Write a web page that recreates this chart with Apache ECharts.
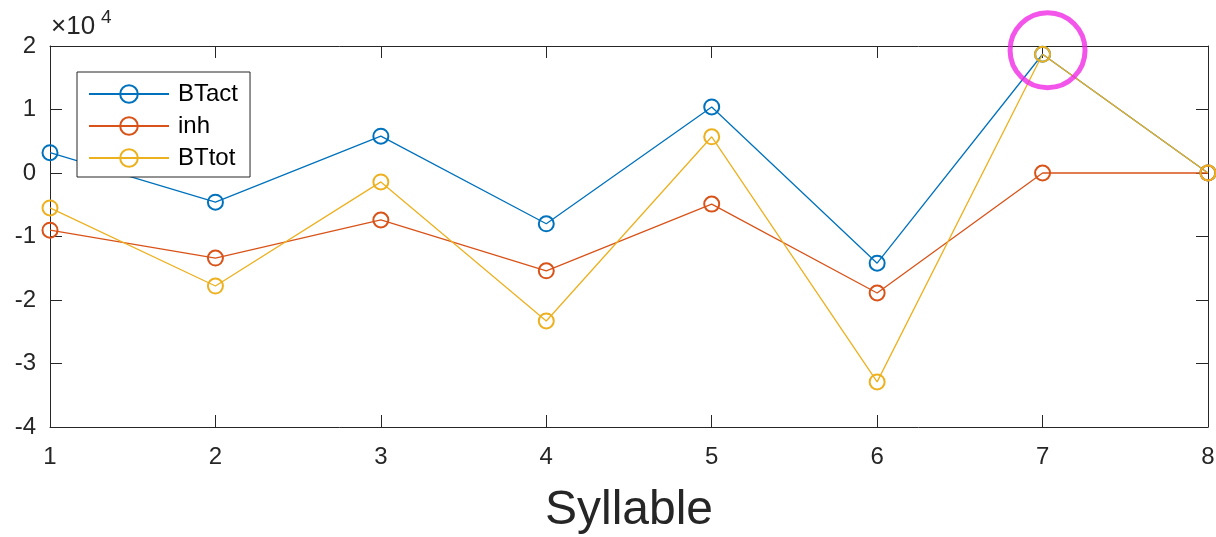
<!DOCTYPE html>
<html><head><meta charset="utf-8">
<script src="https://cdn.jsdelivr.net/npm/echarts@6/dist/echarts.min.js"></script>
<style>html,body{margin:0;padding:0;background:#fff}#c{width:1216px;height:537px}</style>
</head><body><div id="c"></div>
<script>
const syllables = [1, 2, 3, 4, 5, 6, 7, 8];
const btact = [3200, -4600, 5800, -8000, 10400, -14200, 18700, 0];
const inh = [-9000, -13400, -7400, -15400, -4900, -18900, 0, 0];
const bttot = [-5500, -17800, -1400, -23300, 5700, -32900, 18700, 0];
const highlight = [[7, 18700]];
const yTicks = [-40000, -30000, -20000, -10000, 0, 10000, 20000];

const F = '"Liberation Sans", Arial, Helvetica, sans-serif';
const pair = (xs, ys) => xs.map((x, i) => [x, ys[i]]);
const chart = echarts.init(document.getElementById('c'));
const axisCommon = {
  axisLine: {show: true, onZero: false, lineStyle: {color: '#262626', width: 1}},
  axisTick: {show: true, inside: true, length: 12, lineStyle: {color: '#262626', width: 1}},
  splitLine: {show: false}
};
const mk = (name, data, color) => ({
  name, type: 'line', data: pair(syllables, data),
  symbol: 'circle', symbolSize: 15, showSymbol: true,
  lineStyle: {color, width: 1.3},
  itemStyle: {color: 'rgba(255,255,255,0)', borderColor: color, borderWidth: 2},
  emphasis: {disabled: true}, animation: false, z: 3
});
chart.setOption({
  animation: false,
  grid: {left: 50, right: 8, top: 46, bottom: 110, containLabel: false, outerBoundsMode: 'none'},
  legend: {
    left: 77, top: 72, orient: 'vertical', itemWidth: 80, itemHeight: 22, itemGap: 8,
    padding: [10, 12, 7, 11], borderColor: '#262626', borderWidth: 1, backgroundColor: '#fff',
    textStyle: {fontFamily: F, fontSize: 24, color: '#000', padding: [0, 0, 0, 4]},
    data: ['BTact', 'inh', 'BTtot']
  },
  xAxis: [
    Object.assign({type: 'value', min: 1, max: 8, interval: 1, name: 'Syllable', nameLocation: 'middle', nameGap: 60,
      nameTextStyle: {fontFamily: F, fontSize: 48, color: '#262626'},
      axisLabel: {fontFamily: F, fontSize: 24, color: '#262626', margin: 18}}, axisCommon),
    Object.assign({type: 'value', min: 1, max: 8, interval: 1, position: 'top', axisLabel: {show: false}}, axisCommon)
  ],
  yAxis: [
    Object.assign({type: 'value', min: yTicks[0], max: yTicks[yTicks.length - 1], interval: 10000,
      axisLabel: {fontFamily: F, fontSize: 24, color: '#262626', margin: 14, formatter: v => String(v / 10000)}}, axisCommon),
    Object.assign({type: 'value', min: yTicks[0], max: yTicks[yTicks.length - 1], interval: 10000, position: 'right', axisLabel: {show: false}}, axisCommon)
  ],
  graphic: [{type: 'text', left: 51, top: 14, style: {text: '×10', font: '26px ' + F, fill: '#262626'}},
            {type: 'text', left: 101, top: 8, style: {text: '4', font: '19px ' + F, fill: '#262626'}}],
  series: [
    mk('BTact', btact, '#0072BD'),
    mk('inh', inh, '#D95319'),
    mk('BTtot', bttot, '#EDB120'),
    {type: 'scatter', data: highlight, symbol: 'circle', symbolSize: 75, symbolOffset: [5, -4], silent: true,
     itemStyle: {color: 'rgba(0,0,0,0)', borderColor: '#F02BE6', borderWidth: 5}, z: 5, clip: false}
  ]
});
</script></body></html>
